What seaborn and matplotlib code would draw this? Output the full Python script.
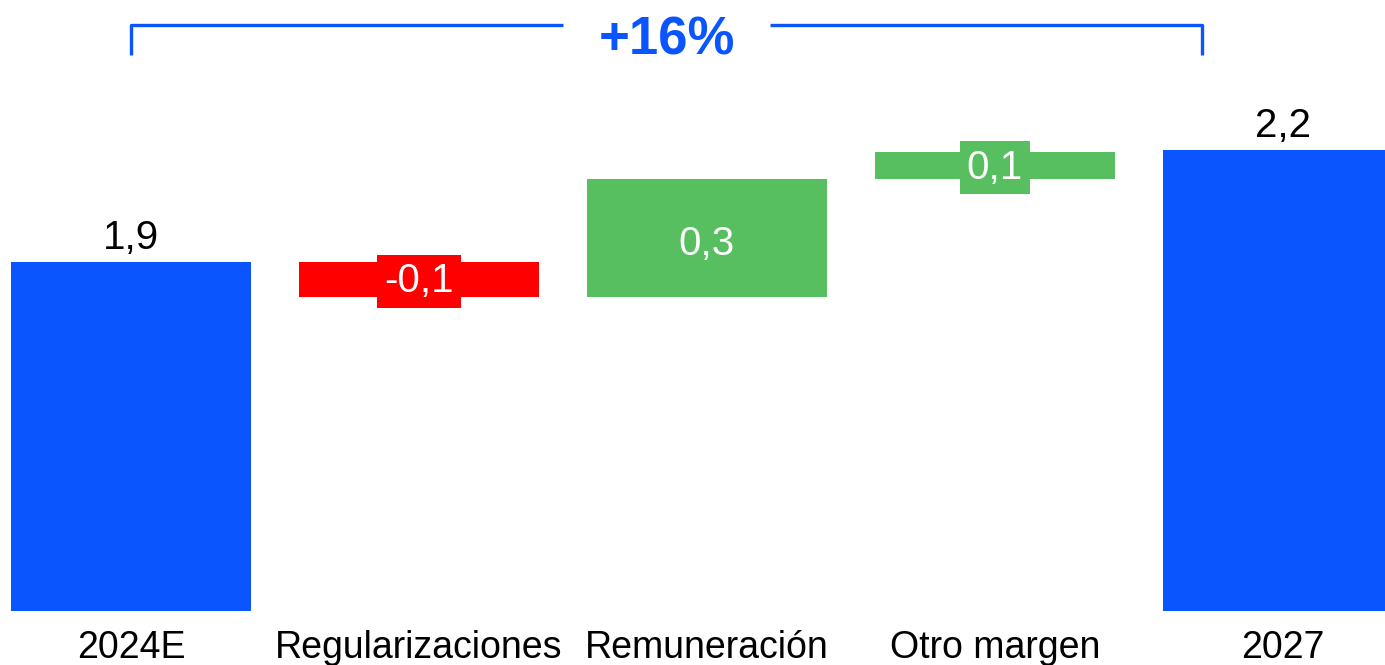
import matplotlib
matplotlib.use("Agg")
import matplotlib.pyplot as plt
import seaborn as sns
import pandas as pd

# Waterfall data
categories = ["2024E", "Regularizaciones", "Remuneración", "Otro margen", "2027"]
start_value = 1.90
deltas = [-0.094, 0.316, 0.072]
end_value = 2.20
growth_label = "+16%"

BLUE = "#0A55FE"
RED = "#FF0000"
GREEN = "#57BF5F"

sns.set_theme(style="white")
plt.rcParams["font.family"] = ["Liberation Sans", "DejaVu Sans"]

# build bottoms / heights for the floating bars
values = [start_value] + deltas + [end_value]
bottoms, heights, colors = [0], [start_value], [BLUE]
running = start_value
for d in deltas:
    bottoms.append(running + min(d, 0))
    heights.append(abs(d))
    colors.append(GREEN if d > 0 else RED)
    running += d
bottoms.append(0)
heights.append(end_value)
colors.append(BLUE)

df = pd.DataFrame({"category": categories, "height": heights, "bottom": bottoms})

fig = plt.figure(figsize=(13.85, 6.65), dpi=100)
ax = fig.add_axes([0, 54 / 665, 1, 611 / 665])

sns.barplot(data=df, x="category", y="height", bottom=df["bottom"].to_numpy(),
            width=0.833, errorbar=None, color=BLUE, ax=ax)
for p, c in zip(ax.patches, colors):
    p.set_facecolor(c)
    p.set_edgecolor("none")

ax.set_xlim(-131 / 288, (1385 - 131) / 288)
ax.set_ylim(0.964, 0.964 + 611 / 373)

# value labels
for i, (v, b, h, c) in enumerate(zip(values, bottoms, heights, colors)):
    label = f"{v:.1f}".replace(".", ",")
    if i in (0, len(values) - 1):
        ax.annotate(label, (i, b + h), xytext=(0, 9), textcoords="offset points",
                    ha="center", va="baseline", fontsize=29, color="black")
    elif h < 0.15:
        ax.annotate(label, (i, b + h / 2), xytext=(0, -1.5), textcoords="offset points",
                    ha="center", va="center", fontsize=29, color="white",
                    bbox=dict(boxstyle="square,pad=0.18", facecolor=c, edgecolor="none"))
    else:
        ax.annotate(label, (i, b + h / 2), xytext=(0, -4), textcoords="offset points",
                    ha="center", va="center", fontsize=29, color="white")

# growth bracket
y_top, y_bot = 2.535, 2.455
ax.plot([0, 0, 1.5], [y_bot, y_top, y_top], color=BLUE, lw=2.4,
        solid_joinstyle="round", solid_capstyle="butt", clip_on=False)
ax.plot([2.22, 3.72, 3.72], [y_top, y_top, y_bot], color=BLUE, lw=2.4,
        solid_joinstyle="round", solid_capstyle="butt", clip_on=False)
ax.text(1.861, 2.494, growth_label, ha="center", va="center", fontsize=38,
        fontweight="bold", color=BLUE)

ax.set_xlabel("")
ax.set_ylabel("")
ax.set_yticks([])
ax.tick_params(axis="x", length=0, pad=14, labelsize=27, labelcolor="black")
sns.despine(ax=ax, left=True, bottom=True)

fig.savefig("out.png", dpi=100)
